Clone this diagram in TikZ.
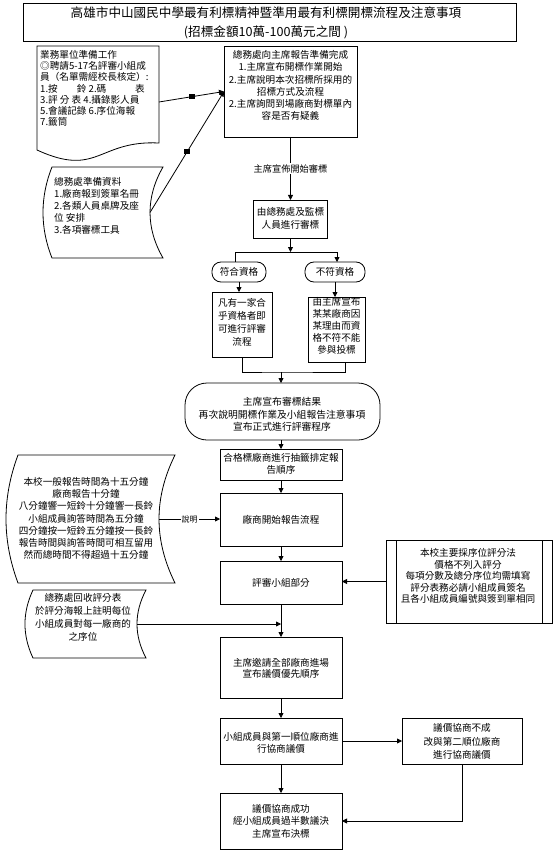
\documentclass[tikz,border=0pt]{standalone}
\usepackage{fontspec}
\setmainfont{Noto Sans CJK TC}
\usetikzlibrary{arrows.meta,calc}
\tikzset{
  ln/.style={line width=0.8pt, draw=black},
  arr/.style={ln, -{Triangle[length=5pt,width=5pt]}},
  boxs/.style={draw=black, line width=0.8pt, rectangle, inner sep=0pt, outer sep=0pt},
  txt/.style={align=center, font=\fontsize{9.6}{12}\selectfont, inner sep=0pt},
  txtl/.style={align=left, anchor=west, font=\fontsize{9.6}{11.2}\selectfont, inner sep=0pt},
  lbl/.style={fill=white, inner sep=1pt, font=\fontsize{9.2}{11}\selectfont},
  mk/.style={fill=black, minimum width=6pt, minimum height=5pt, inner sep=0pt},
}
\begin{document}
\begin{tikzpicture}[x=1pt,y=-1pt]
\useasboundingbox (0,0) rectangle (554,850);

% title
\node[boxs, minimum width=493pt, minimum height=38pt] (T) at (269.5,22) {};
\node[txt, font=\fontsize{12.6}{19}\selectfont] (Tt) at (266,22.5) {高雄市中山國民中學最有利標精神暨準用最有利標開標流程及注意事項\\(招標金額10萬-100萬元之間 )};

% A document shape
\draw[ln] (37,46) -- (159,46) -- (159,143) .. controls (98,140) and (98,178) .. (37,150) -- cycle;
\coordinate (Aout) at (159,102);
\node[txtl] (At) at (40,88.5) {業務單位準備工作\\◎聘請5-17名評審小組成\\員（名單需經校長核定）:\\1.按　　鈴 2.碼　　　表\\3.評 分 表 4.攝錄影人員\\5.會議記錄 6.序位海報\\7.籤筒};

% B
\node[boxs, minimum width=133pt, minimum height=91pt] (B) at (290.5,91.5) {};
\node[txt, font=\fontsize{9.6}{12.2}\selectfont] (Bt) at (290.5,85.5) {總務處向主席報告準備完成\\1.主席宣布開標作業開始\\2.主席說明本次招標所採用的\\招標方式及流程\\2.主席詢問到場廠商對標單內\\容是否有疑義};

% C stored data
\draw[ln] (52,167) -- (163,167) .. controls (145.7,197) and (145.7,228) .. (163,258) -- (52,258) .. controls (40,228) and (40,197) .. (52,167) -- cycle;
\coordinate (Cout) at (150,212.5);
\node[txtl, font=\fontsize{9.6}{12}\selectfont] (Ct) at (54,206) {總務處準備資料\\1.廠商報到簽單名冊\\2.各類人員桌牌及座\\位 安排\\3.各項審標工具};

\draw[arr] (Aout) -- node[mk] (m1) {} (B.west);
\draw[arr] (Cout) -- node[mk] (m2) {} (B.west);

% G
\node[boxs, minimum width=74pt, minimum height=38pt] (G) at (290.5,219) {};
\node[txt, font=\fontsize{9.6}{13}\selectfont] (Gt) at (290.5,218.5) {由總務處及監標\\人員進行審標};
\draw[arr] (B.south) -- node[lbl] (l1) {主席宣佈開始審標} (G.north);

% branches
\coordinate (br) at (290.5,252);
\coordinate (brL) at (235,252);
\coordinate (brR) at (337,252);
\node[boxs, rounded corners=9pt, minimum width=54pt, minimum height=20pt] (O1) at (239,272) {};
\node[txt] (O1t) at (239,272) {符合資格};
\node[boxs, rounded corners=9pt, minimum width=60pt, minimum height=20pt] (O2) at (335,272) {};
\node[txt] (O2t) at (335,272) {不符資格};
\draw[arr] (G.south) -- (br);
\draw[ln] (brL) -- (brR);
\draw[ln] (brL) -- (brL |- O1.north);
\draw[arr] (brR) -- (brR |- O2.north);

\node[boxs, minimum width=60pt, minimum height=65pt] (H) at (242,324.5) {};
\node[txt, font=\fontsize{9.6}{13}\selectfont] (Ht) at (242,322.5) {凡有一家合\\乎資格者即\\可進行評審\\流程};
\node[boxs, minimum width=57pt, minimum height=65pt] (I) at (336.5,329.5) {};
\node[txt] (It) at (336.5,326) {由主席宣布\\某某廠商因\\某理由而資\\格不符不能\\參與投標};
\draw[arr] (O1.south) -- (O1.south |- H.north);
\draw[arr] (O2.south) -- (O2.south |- I.north);

\coordinate (jn) at (281,372);
\draw[ln] (H.south) |- (jn) -| ([xshift=8.5pt]I.south);

% J
\node[boxs, rounded corners=22pt, minimum width=195pt, minimum height=57pt] (J) at (282.5,411.5) {};
\node[txt, font=\fontsize{9.8}{12.5}\selectfont] (Jt) at (282,414.5) {主席宣布審標結果\\再次說明開標作業及小組報告注意事項\\宣布正式進行評審程序};
\draw[arr] (jn) -- (jn |- J.north);

% F K L
\node[boxs, minimum width=122pt, minimum height=31pt] (F) at (281,464.5) {};
\node[txt] (Ft) at (281,464) {合格標廠商進行抽籤排定報\\告順序};
\node[boxs, minimum width=122pt, minimum height=53pt] (K) at (281,519.5) {};
\node[txt] (Kt) at (281,519.5) {廠商開始報告流程};
\node[boxs, minimum width=122pt, minimum height=43pt] (L) at (281,582.5) {};
\node[txt] (Lt) at (281,583) {評審小組部分};
\draw[arr] (F.north |- J.south) -- (F.north);
\draw[arr] (F.south) -- (K.north);
\draw[arr] (K.south) -- (L.north);

% D stored data
\draw[ln] (18,455) -- (175,455) .. controls (153.7,498) and (153.7,540) .. (175,583) -- (18,583) .. controls (2,540) and (2,498) .. (18,455) -- cycle;
\coordinate (Dout) at (159,519);
\node[txt, font=\fontsize{9.6}{12.2}\selectfont] (Dt) at (86,518.5) {本校一般報告時間為十五分鐘\\廠商報告十分鐘\\八分鐘響一短鈴十分鐘響一長鈴\\小組成員詢答時間為五分鐘\\四分鐘按一短鈴五分鐘按一長鈴\\報告時間與詢答時間可相互留用\\然而總時間不得超過十五分鐘};
\draw[arr] (Dout) -- node[lbl, font=\fontsize{8}{10}\selectfont] (l2) {說明} (Dout -| K.west);

% M predefined process
\node[boxs, minimum width=166pt, minimum height=83pt] (M) at (469,581.5) {};
\draw[ln] ($(M.north west)+(10,0)$) -- ($(M.south west)+(10,0)$);
\draw[ln] ($(M.north east)+(-10,0)$) -- ($(M.south east)+(-10,0)$);
\node[txt, font=\fontsize{9.6}{11.5}\selectfont] (Mt) at (468,576) {本校主要採序位評分法\\價格不列入評分\\每項分數及總分序位均需填寫\\評分表務必請小組成員簽名\\且各小組成員編號與簽到單相同};
\draw[arr] (M.west) -- (M.west -| L.east);

% E stored data
\draw[ln] (33,590) -- (146,590) .. controls (134,612.7) and (134,635.3) .. (146,658) -- (33,658) .. controls (22.3,635.3) and (22.3,612.7) .. (33,590) -- cycle;
\coordinate (Eout) at (137,624);
\node[txt, font=\fontsize{9.6}{13}\selectfont] (Et) at (83,617.5) {總務處回收評分表\\於評分海報上註明每位\\小組成員對每一廠商的\\之序位};

% N O P Q
\node[boxs, minimum width=122pt, minimum height=61pt] (N) at (281,667.5) {};
\node[txt, font=\fontsize{9.6}{11}\selectfont] (Nt) at (281,668) {主席邀請全部廠商進場\\宣布議價優先順序};
\node[boxs, minimum width=122pt, minimum height=46pt] (O) at (281,741) {};
\node[txt] (Ot) at (281,742.5) {小組成員與第一順位廠商進\\行協商議價};
\node[boxs, minimum width=120pt, minimum height=46pt] (P) at (462,741) {};
\node[txt, font=\fontsize{9.6}{13.5}\selectfont] (Pt) at (462,741.5) {議價協商不成\\改與第二順位廠商\\進行協商議價};
\node[boxs, minimum width=122pt, minimum height=56pt] (Q) at (281,821) {};
\node[txt, font=\fontsize{9.6}{12.5}\selectfont] (Qt) at (281,821) {議價協商成功\\經小組成員過半數議決\\主席宣布決標};

\draw[arr] (L.south) -- (N.north);
\draw[arr] (Eout) -- (Eout -| L.south);
\draw[arr] (N.south) -- (O.north);
\draw[arr] (O.south) -- (Q.north);
\draw[arr] (O.east) -- (P.west);
\draw[arr] (P.south) |- (Q.east);

\end{tikzpicture}
\end{document}
